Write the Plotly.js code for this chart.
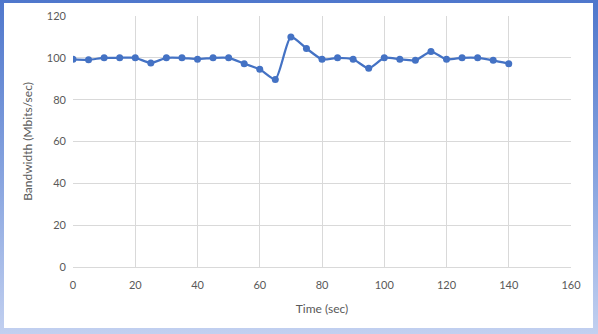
<!DOCTYPE html>
<html>
<head>
<meta charset="utf-8">
<script src="https://cdn.plot.ly/plotly-3.0.1.min.js"></script>
<style>
  html, body { margin: 0; padding: 0; }
  body {
    width: 598px; height: 334px; overflow: hidden;
    background: linear-gradient(to bottom, #4f77cc 0%, #8aa6e0 55%, #c2d0f0 100%);
  }
  #frame {
    position: absolute; left: 4px; top: 3px; width: 589px; height: 325px;
    background: #fff;
  }
  #chart { width: 589px; height: 325px; }
</style>
</head>
<body>
<div id="frame"><div id="chart"></div></div>
<script>
// time in seconds, bandwidth in Mbits/sec
const timeSec = [0, 5, 10, 15, 20, 25, 30, 35, 40, 45, 50, 55, 60, 65, 70,
  75, 80, 85, 90, 95, 100, 105, 110, 115, 120, 125, 130, 135, 140];
const bandwidth = [99.3, 99.1, 100, 100, 100, 97.5, 100, 100, 99.3, 100, 100, 97.2, 94.5, 89.7, 110,
  104.5, 99.3, 100, 99.3, 95, 100, 99.3, 98.8, 103, 99.3, 100, 100, 98.8, 97.2];
const xTicks = [0, 20, 40, 60, 80, 100, 120, 140, 160];
const yTicks = [0, 20, 40, 60, 80, 100, 120];

const chartDiv = document.querySelector('#chart');

var trace = {
  x: timeSec,
  y: bandwidth,
  type: 'scatter',
  mode: 'lines+markers',
  line: { color: '#4472C4', width: 2.25, shape: 'spline', smoothing: 0.6 },
  marker: { color: '#4472C4', size: 7 },
  hoverinfo: 'skip'
};

var tickFont = { family: 'Lato, "Open Sans", sans-serif', size: 11, color: '#595959' };

var layout = {
  width: 589,
  height: 325,
  margin: { l: 69, r: 22, t: 13, b: 61 },
  paper_bgcolor: '#ffffff',
  plot_bgcolor: '#ffffff',
  showlegend: false,
  xaxis: {
    range: [0, 160],
    tickvals: xTicks,
    ticktext: xTicks.map(String),
    showgrid: true,
    gridcolor: '#d9d9d9',
    gridwidth: 1,
    zeroline: false,
    showline: true,
    linecolor: '#d9d9d9',
    ticks: '',
    ticklabelstandoff: 8,
    tickfont: tickFont,
    title: { text: 'Time (sec)', font: { family: 'Lato, "Open Sans", sans-serif', size: 12, color: '#595959' }, standoff: 14 }
  },
  yaxis: {
    range: [0, 120],
    tickvals: yTicks,
    ticktext: yTicks.map(String),
    showgrid: true,
    gridcolor: '#d9d9d9',
    gridwidth: 1,
    zeroline: false,
    showline: false,
    ticks: '',
    ticklabelstandoff: 6,
    tickfont: tickFont,
    title: { text: 'Bandwidth (Mbits/sec)', font: { family: 'Lato, "Open Sans", sans-serif', size: 12, color: '#595959' }, standoff: 11 }
  }
};

Plotly.newPlot(chartDiv, [trace], layout, { staticPlot: true, displayModeBar: false });
</script>
</body>
</html>
